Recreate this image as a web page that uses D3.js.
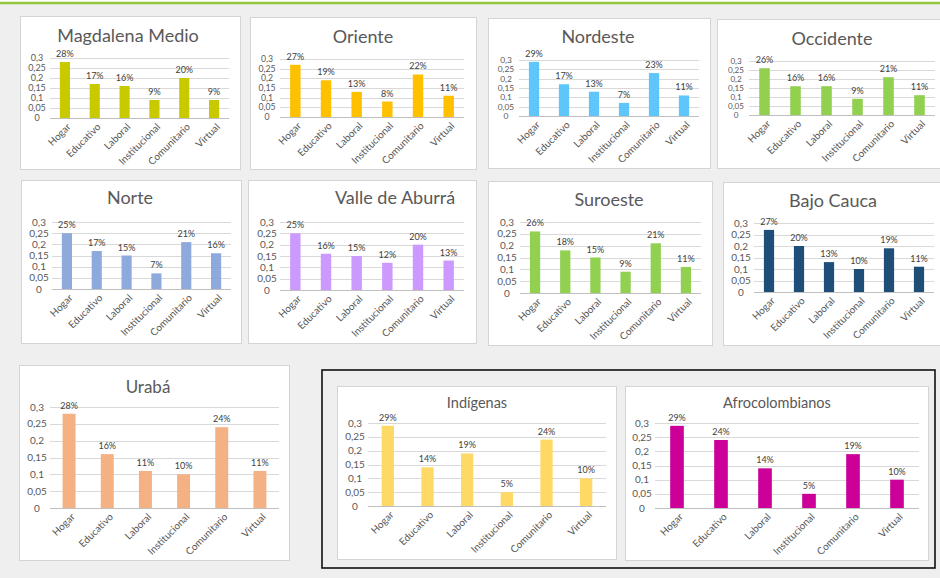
<!DOCTYPE html>
<html><head><meta charset="utf-8">
<script src="https://cdn.jsdelivr.net/npm/d3@7/dist/d3.min.js"></script>
<style>
html,body{margin:0;padding:0;background:#efefef;}
svg{display:block;font-family:Lato,"Open Sans",sans-serif;}
</style></head>
<body>
<svg id="chart" width="940" height="578"></svg>
<script>
// ---- data ----
const categories = ["Hogar","Educativo","Laboral","Institucional","Comunitario","Virtual"];
const regionNames = ["Magdalena Medio","Oriente","Nordeste","Occidente","Norte","Valle de Aburrá","Suroeste","Bajo Cauca","Urabá","Indígenas","Afrocolombianos"];
const magdalenaMedio = [0.28,0.17,0.16,0.09,0.20,0.09];
const oriente        = [0.27,0.19,0.13,0.08,0.22,0.11];
const nordeste       = [0.29,0.17,0.13,0.07,0.23,0.11];
const occidente      = [0.26,0.16,0.16,0.09,0.21,0.11];
const norte          = [0.25,0.17,0.15,0.07,0.21,0.16];
const valleDeAburra  = [0.25,0.16,0.15,0.12,0.20,0.13];
const suroeste       = [0.26,0.18,0.15,0.09,0.21,0.11];
const bajoCauca      = [0.27,0.20,0.13,0.10,0.19,0.11];
const uraba          = [0.28,0.16,0.11,0.10,0.24,0.11];
const indigenas      = [0.29,0.14,0.19,0.05,0.24,0.10];
const afrocolombianos= [0.29,0.24,0.14,0.05,0.19,0.10];
const seriesValues = [magdalenaMedio,oriente,nordeste,occidente,norte,valleDeAburra,suroeste,bajoCauca,uraba,indigenas,afrocolombianos];
const yTicks = [0,0.05,0.1,0.15,0.2,0.25,0.3];

// ---- styles / layout ----
const colors = ["#c9c900","#ffc000","#5ec6fb","#92d050","#8eaadc","#cc99ff","#92d050","#1f4e79","#f4b183","#ffd966","#cc0099"];
const layouts = [
 {box:[20,16,220,153], plot:[50,229,58,118], title:[128,36], tfs:18, bw:0.34},
 {box:[250,17,226,152], plot:[280,464,59,117], title:[363,37], tfs:18, bw:0.34},
 {box:[488,18,222,150], plot:[519,699,60,116], title:[598,37], tfs:18, bw:0.34},
 {box:[717,19,232,149], plot:[749,935,61,115], title:[832,39], tfs:18, bw:0.34},
 {box:[21,180,220,163], plot:[52,231,222,289], title:[130,198], tfs:18, bw:0.34},
 {box:[248,180,228,163], plot:[280,464,222,290], title:[395,198], tfs:18, bw:0.34},
 {box:[488,181,224,164], plot:[520,701,222,293], title:[609,200], tfs:18, bw:0.34},
 {box:[723,182,226,163], plot:[754,934,223,292], title:[833,201], tfs:18, bw:0.34},
 {box:[19,365,270,195], plot:[50,279,407,508], title:[148,387], tfs:17, bw:0.34},
 {box:[337,386,279,173], plot:[368,606,423,506], title:[477,403], tfs:14.5, bw:0.31},
 {box:[625,386,303,174], plot:[655,919,423,508], title:[777,403], tfs:14.5, bw:0.31}
];

const svg = d3.select("#chart");
const fmtTick = d3.formatLocale({decimal:",",thousands:".",grouping:[3],currency:["$",""]}).format("~g");
const fmtPct = d3.format(".0%");

svg.append("rect").attr("x",0).attr("y",0).attr("width",940).attr("height",578).attr("fill","#efefef");
svg.append("rect").attr("x",0).attr("y",0).attr("width",940).attr("height",2).attr("fill","#ffffff");
svg.append("line").attr("x1",0).attr("x2",940).attr("y1",3).attr("y2",3).attr("stroke","#92c83e").attr("stroke-width",2.5);

// black frame around ethnic group charts
svg.append("rect").attr("x",322).attr("y",370).attr("width",613).attr("height",198)
  .attr("fill","none").attr("stroke","#111").attr("stroke-width",1.6);

regionNames.forEach((name,i)=>{
  const L = layouts[i], vals = seriesValues[i];
  const g = svg.append("g");
  g.append("rect").attr("x",L.box[0]+0.5).attr("y",L.box[1]+0.5).attr("width",L.box[2]).attr("height",L.box[3])
    .attr("fill","#ffffff").attr("stroke","#d4d4d4").attr("stroke-width",1);
  const p = 1-L.bw;
  const x = d3.scaleBand().domain(categories).range([L.plot[0],L.plot[1]]).paddingInner(p).paddingOuter(p/2);
  const y = d3.scaleLinear().domain([0,0.3]).range([L.plot[3],L.plot[2]]);
  const step = (L.plot[3]-L.plot[2])/6;
  const tickFs = Math.min(10, step*0.9);
  // gridlines
  g.selectAll(".grid").data(yTicks).join("line")
    .attr("x1",L.plot[0]).attr("x2",L.plot[1])
    .attr("y1",d=>Math.round(y(d))+0.5).attr("y2",d=>Math.round(y(d))+0.5)
    .attr("stroke",d=>d===0?"#bfbfbf":"#d9d9d9").attr("stroke-width",1);
  // y tick labels
  g.selectAll(".yt").data(yTicks).join("text")
    .attr("x",L.plot[0]-13).attr("y",d=>y(d)).attr("dy","0.35em")
    .attr("text-anchor","middle").attr("font-size",tickFs).attr("fill","#595959")
    .text(d=>fmtTick(d));
  // bars
  g.selectAll(".bar").data(vals).join("rect")
    .attr("x",(d,j)=>x(categories[j])).attr("width",x.bandwidth())
    .attr("y",d=>y(d)).attr("height",d=>y(0)-y(d)).attr("fill",colors[i]);
  // data labels
  g.selectAll(".dl").data(vals).join("text")
    .attr("x",(d,j)=>x(categories[j])+x.bandwidth()/2).attr("y",d=>y(d)-5)
    .attr("text-anchor","middle").attr("font-size",9).attr("fill","#404040")
    .text(d=>fmtPct(d));
  // x labels
  g.selectAll(".xl").data(categories).join("text")
    .attr("transform",c=>`translate(${x(c)+x.bandwidth()/2+4},${L.plot[3]+7}) rotate(-45)`)
    .attr("dy","0.35em").attr("text-anchor","end").attr("font-size",10).attr("fill","#595959")
    .text(c=>c);
  // title
  g.append("text").attr("x",L.title[0]).attr("y",L.title[1]).attr("dy","0.35em")
    .attr("text-anchor","middle").attr("font-size",L.tfs).attr("fill","#595959").text(name);
});
</script>
</body></html>
